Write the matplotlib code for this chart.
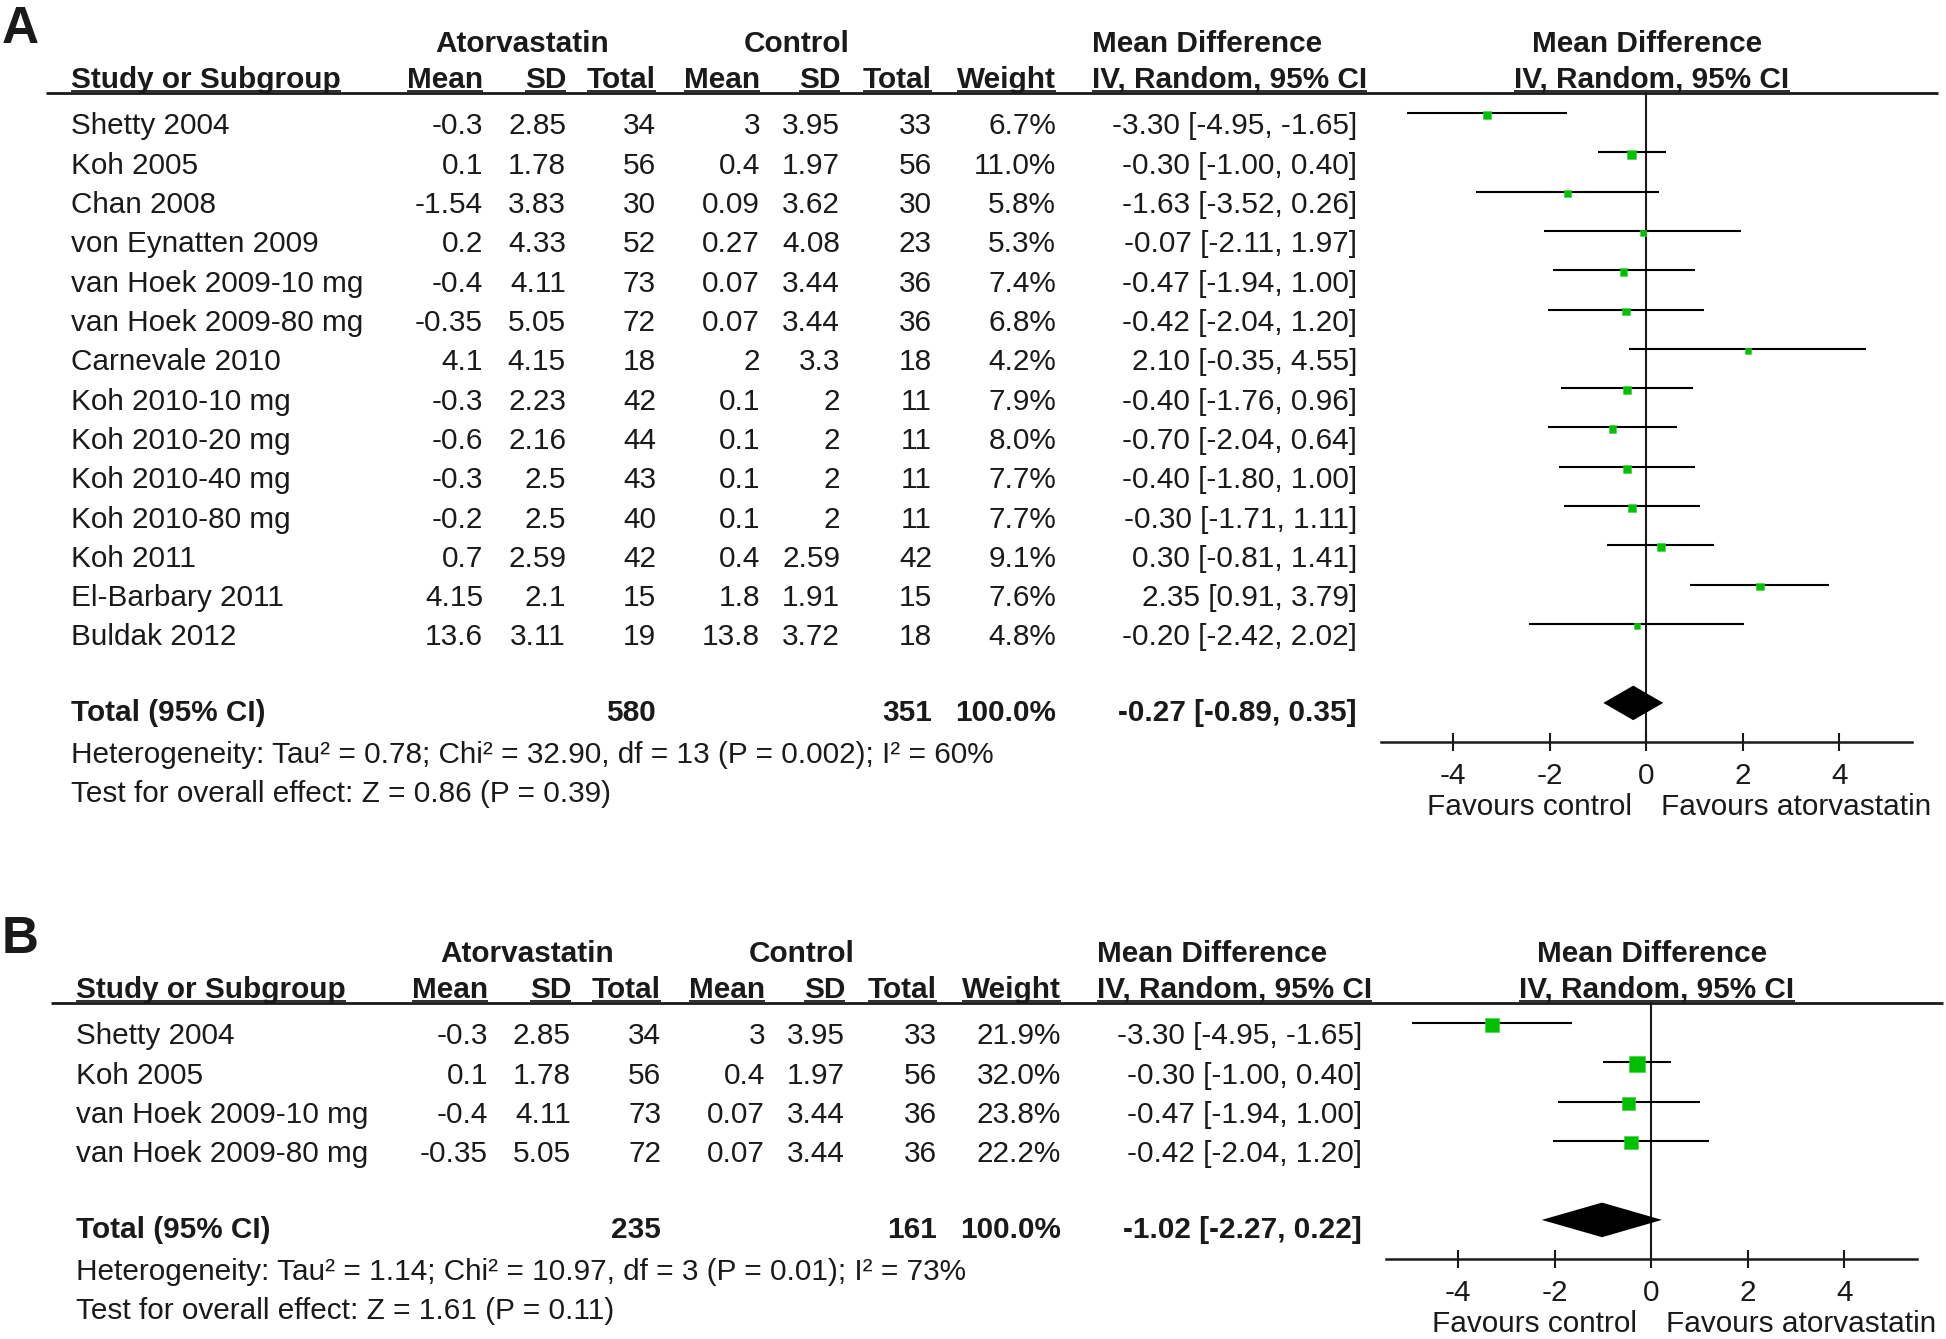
import matplotlib
matplotlib.use("Agg")
import numpy as np
import matplotlib.pyplot as plt

plt.rcParams['font.family'] = ['Liberation Sans', 'DejaVu Sans']
plt.rcParams['axes.unicode_minus'] = False

W, H = 1946, 1339
ROW = 39.3          # pixel pitch of the table rows
FS = 21.4
INK = '#1a1a1a'
GREEN = '#00c000'

# ---------------- panel A data ----------------
a_studies = ["Shetty 2004", "Koh 2005", "Chan 2008", "von Eynatten 2009",
             "van Hoek 2009-10 mg", "van Hoek 2009-80 mg", "Carnevale 2010",
             "Koh 2010-10 mg", "Koh 2010-20 mg", "Koh 2010-40 mg",
             "Koh 2010-80 mg", "Koh 2011", "El-Barbary 2011", "Buldak 2012"]
a_atv_mean = [-0.3, 0.1, -1.54, 0.2, -0.4, -0.35, 4.1, -0.3, -0.6, -0.3, -0.2, 0.7, 4.15, 13.6]
a_atv_sd = [2.85, 1.78, 3.83, 4.33, 4.11, 5.05, 4.15, 2.23, 2.16, 2.5, 2.5, 2.59, 2.1, 3.11]
a_atv_n = [34, 56, 30, 52, 73, 72, 18, 42, 44, 43, 40, 42, 15, 19]
a_ctl_mean = [3, 0.4, 0.09, 0.27, 0.07, 0.07, 2, 0.1, 0.1, 0.1, 0.1, 0.4, 1.8, 13.8]
a_ctl_sd = [3.95, 1.97, 3.62, 4.08, 3.44, 3.44, 3.3, 2, 2, 2, 2, 2.59, 1.91, 3.72]
a_ctl_n = [33, 56, 30, 23, 36, 36, 18, 11, 11, 11, 11, 42, 15, 18]
a_weight = [6.7, 11.0, 5.8, 5.3, 7.4, 6.8, 4.2, 7.9, 8.0, 7.7, 7.7, 9.1, 7.6, 4.8]
a_md = [-3.30, -0.30, -1.63, -0.07, -0.47, -0.42, 2.10, -0.40, -0.70, -0.40, -0.30, 0.30, 2.35, -0.20]
a_lo = [-4.95, -1.00, -3.52, -2.11, -1.94, -2.04, -0.35, -1.76, -2.04, -1.80, -1.71, -0.81, 0.91, -2.42]
a_hi = [-1.65, 0.40, 0.26, 1.97, 1.00, 1.20, 4.55, 0.96, 0.64, 1.00, 1.11, 1.41, 3.79, 2.02]
a_total_n = [580, 351]
a_total_ci = [-0.27, -0.89, 0.35]
a_het = "Heterogeneity: Tau² = 0.78; Chi² = 32.90, df = 13 (P = 0.002); I² = 60%"
a_test = "Test for overall effect: Z = 0.86 (P = 0.39)"

# ---------------- panel B data ----------------
b_studies = ["Shetty 2004", "Koh 2005", "van Hoek 2009-10 mg", "van Hoek 2009-80 mg"]
b_atv_mean = [-0.3, 0.1, -0.4, -0.35]
b_atv_sd = [2.85, 1.78, 4.11, 5.05]
b_atv_n = [34, 56, 73, 72]
b_ctl_mean = [3, 0.4, 0.07, 0.07]
b_ctl_sd = [3.95, 1.97, 3.44, 3.44]
b_ctl_n = [33, 56, 36, 36]
b_weight = [21.9, 32.0, 23.8, 22.2]
b_md = [-3.30, -0.30, -0.47, -0.42]
b_lo = [-4.95, -1.00, -1.94, -2.04]
b_hi = [-1.65, 0.40, 1.00, 1.20]
b_total_n = [235, 161]
b_total_ci = [-1.02, -2.27, 0.22]
b_het = "Heterogeneity: Tau² = 1.14; Chi² = 10.97, df = 3 (P = 0.01); I² = 73%"
b_test = "Test for overall effect: Z = 1.61 (P = 0.11)"

xticks = [-4, -2, 0, 2, 4]

# right edges of the numeric columns (px)
COL_R = [483, 566, 656, 760, 840, 932, 1056, 1357]


def g(v):
    return f"{v:g}"


def ci_str(m, l, h):
    return f"{m:.2f} [{l:.2f}, {h:.2f}]"


def draw_panel(fig, canvas, x0, y0, label, studies, atv_mean, atv_sd, atv_n,
               ctl_mean, ctl_sd, ctl_n, weight, md, lo, hi,
               total_n, total_ci, het, test):
    n = len(studies)
    txt = dict(fontsize=FS, color=INK, va='baseline')
    bold = dict(txt, fontweight='bold')

    canvas.text(2, y0 + 43, label, fontsize=37, fontweight='bold', color=INK, va='baseline')

    # header line 1
    h1 = y0 + 52
    canvas.text(x0 + 522, h1, "Atorvastatin", ha='center', **bold)
    canvas.text(x0 + 797, h1, "Control", ha='center', **bold)
    canvas.text(x0 + 1092, h1, "Mean Difference", ha='left', **bold)
    canvas.text(x0 + 1647, h1, "Mean Difference", ha='center', **bold)

    # header line 2 (underlined)
    h2 = y0 + 88
    under = [canvas.text(x0 + 71, h2, "Study or Subgroup", ha='left', **bold)]
    for name, xr in zip(["Mean", "SD", "Total", "Mean", "SD", "Total", "Weight"], COL_R):
        under.append(canvas.text(x0 + xr, h2, name, ha='right', **bold))
    under.append(canvas.text(x0 + 1092, h2, "IV, Random, 95% CI", ha='left', **bold))
    under.append(canvas.text(x0 + 1652, h2, "IV, Random, 95% CI", ha='center', **bold))
    canvas.plot([x0 + 46, min(x0 + 1938, W - 3)], [y0 + 92.5, y0 + 92.5], color=INK, lw=2,
                solid_capstyle='butt')

    # study rows
    for i in range(n):
        yb = y0 + 124 + ROW * i + 10.5
        canvas.text(x0 + 71, yb, studies[i], ha='left', **txt)
        cells = [g(atv_mean[i]), g(atv_sd[i]), str(atv_n[i]),
                 g(ctl_mean[i]), g(ctl_sd[i]), str(ctl_n[i]),
                 f"{weight[i]:.1f}%", ci_str(md[i], lo[i], hi[i])]
        for c, xr in zip(cells, COL_R):
            canvas.text(x0 + xr, yb, c, ha='right', **txt)

    # total row + footer
    tot_c = y0 + 124 + ROW * (n - 1) + 76
    tb = tot_c + 10.5
    canvas.text(x0 + 71, tb, "Total (95% CI)", ha='left', **bold)
    canvas.text(x0 + COL_R[2], tb, str(total_n[0]), ha='right', **bold)
    canvas.text(x0 + COL_R[5], tb, str(total_n[1]), ha='right', **bold)
    canvas.text(x0 + COL_R[6], tb, "100.0%", ha='right', **bold)
    canvas.text(x0 + COL_R[7], tb, ci_str(*total_ci), ha='right', **bold)
    canvas.text(x0 + 71, tot_c + 42 + 10.5, het, ha='left', **txt)
    canvas.text(x0 + 71, tot_c + 81 + 10.5, test, ha='left', **txt)

    # forest plot axes
    zero = x0 + 1646.3
    unit = 48.27
    left, right = zero - 5.5 * unit, zero + 5.5 * unit
    top_px, axis_px = y0 + 92, tot_c + 31.5

    def row_of(px):
        return (px - (y0 + 113)) / ROW

    ax = fig.add_axes([left / W, 1 - axis_px / H, (right - left) / W, (axis_px - top_px) / H])
    ax.patch.set_visible(False)
    ax.set_xlim(-5.5, 5.5)
    ax.set_ylim(row_of(axis_px), row_of(top_px))
    for s in ['left', 'right', 'top']:
        ax.spines[s].set_visible(False)
    ax.spines['bottom'].set_linewidth(1.8)
    ax.spines['bottom'].set_color(INK)
    ax.set_yticks([])
    ax.set_xticks(xticks)
    ax.tick_params(axis='x', direction='inout', length=13, width=1.5, pad=7.5,
                   labelsize=FS, colors=INK)

    rows = np.arange(n)
    ax.axvline(0, color=INK, lw=1.5, zorder=1)
    ax.hlines(rows, lo, hi, color='black', lw=1.5, zorder=2)
    side_pt = 2.8 * np.sqrt(weight) * 72 / 100
    ax.scatter(md, rows + 0.05, marker='s', s=side_pt ** 2, color=GREEN,
               edgecolors='#3ad43a', linewidths=0.4, zorder=3)

    m, l, h = total_ci
    r = row_of(tot_c - 8)
    hh = 0.44
    ax.fill([l, m, h, m], [r, r - hh, r, r + hh], color='black', lw=0, zorder=3)

    ax.annotate("Favours control", xy=(-0.3, 0), xycoords=('data', 'axes fraction'),
                xytext=(0, -52.5), textcoords='offset points', ha='right', **txt)
    ax.annotate("Favours atorvastatin", xy=(0.3, 0), xycoords=('data', 'axes fraction'),
                xytext=(0, -52.5), textcoords='offset points', ha='left', **txt)

    return under, h2


fig = plt.figure(figsize=(W / 100, H / 100), dpi=100, facecolor='white')
canvas = fig.add_axes([0, 0, 1, 1])
canvas.set_xlim(0, W)
canvas.set_ylim(H, 0)
canvas.axis('off')

ua, ya = draw_panel(fig, canvas, 0, 0, "A", a_studies, a_atv_mean, a_atv_sd, a_atv_n,
                    a_ctl_mean, a_ctl_sd, a_ctl_n, a_weight, a_md, a_lo, a_hi,
                    a_total_n, a_total_ci, a_het, a_test)
ub, yb = draw_panel(fig, canvas, 5, 910, "B", b_studies, b_atv_mean, b_atv_sd, b_atv_n,
                    b_ctl_mean, b_ctl_sd, b_ctl_n, b_weight, b_md, b_lo, b_hi,
                    b_total_n, b_total_ci, b_het, b_test)

# underline the column headers
fig.canvas.draw()
renderer = fig.canvas.get_renderer()
for texts, base in [(ua, ya), (ub, yb)]:
    for t in texts:
        bb = t.get_window_extent(renderer)
        canvas.plot([bb.x0, bb.x1], [base + 2.5, base + 2.5], color=INK, lw=1.3,
                    solid_capstyle='butt')

fig.savefig("out.png", dpi=100, facecolor='white')
